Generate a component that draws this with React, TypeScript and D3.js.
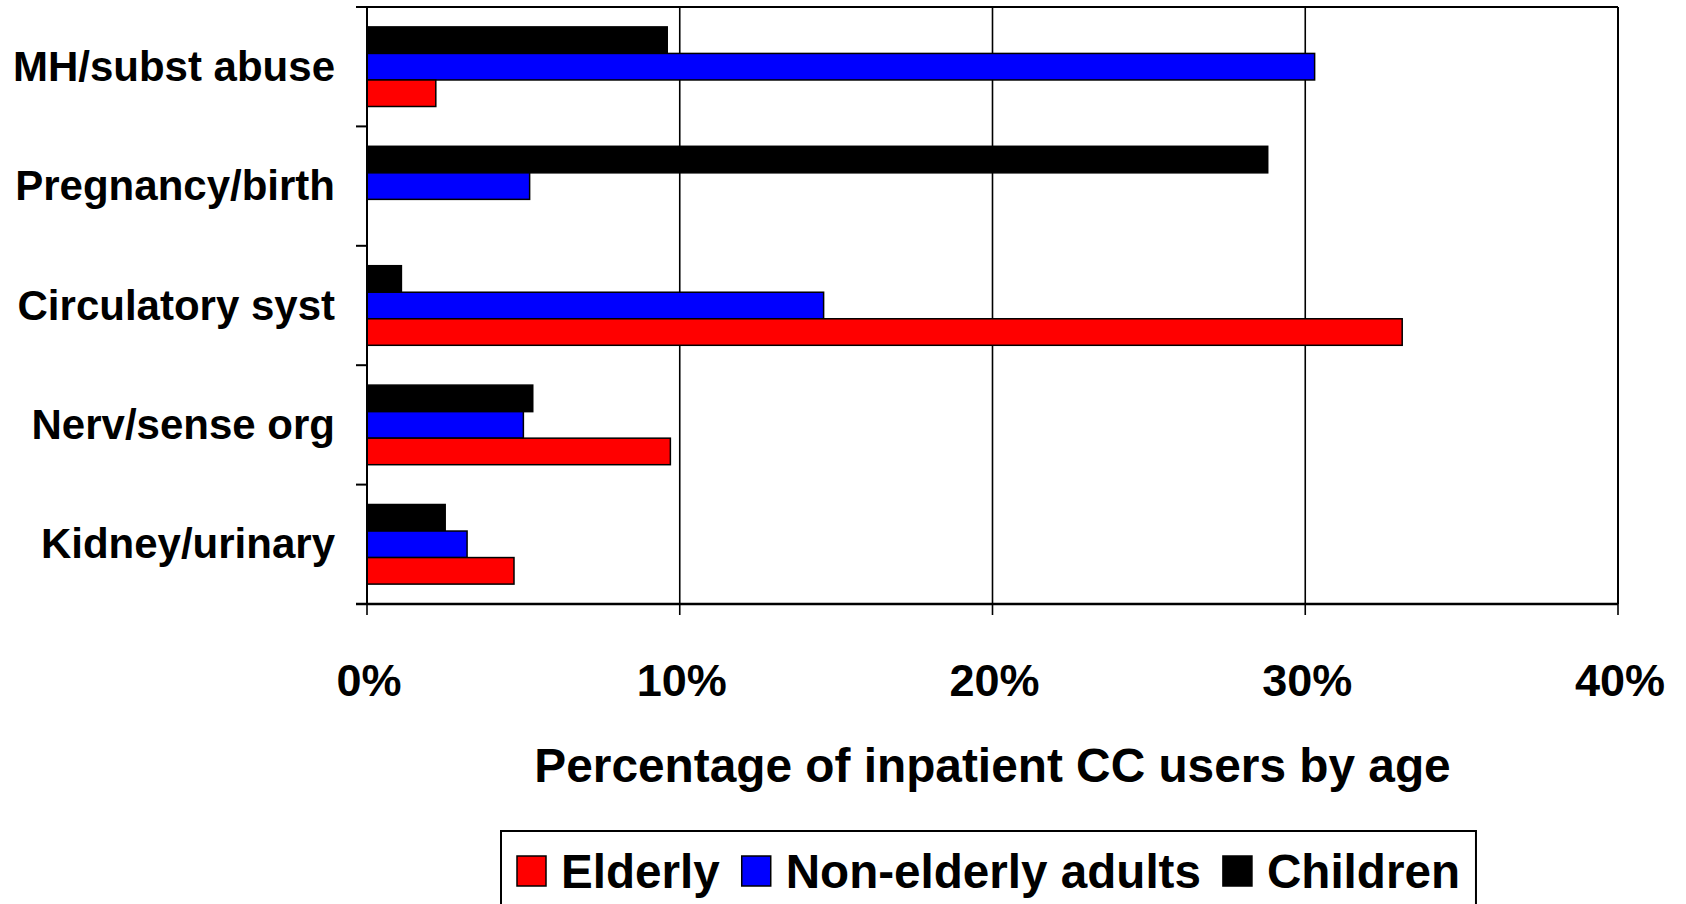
import React, { useEffect, useRef } from 'react';
import * as d3 from 'd3';

// categories, top to bottom
const categories = ['MH/subst abuse', 'Pregnancy/birth', 'Circulatory syst', 'Nerv/sense org', 'Kidney/urinary'];

// series drawn top to bottom inside each category group
const seriesNames = ['Children', 'Non-elderly adults', 'Elderly'];
const seriesColors = ['#000000', '#0000ff', '#ff0000'];

// percentage values per category (same order as categories)
const children = [9.6, 28.8, 1.1, 5.3, 2.5];
const nonElderly = [30.3, 5.2, 14.6, 5.0, 3.2];
const elderly = [2.2, 0, 33.1, 9.7, 4.7];

const xTicks = [0, 10, 20, 30, 40];
const xTitle = 'Percentage of inpatient CC users by age';

// legend reads left to right
const legendItems = ['Elderly', 'Non-elderly adults', 'Children'];
const legendColors = ['#ff0000', '#0000ff', '#000000'];

const FONT = '"Liberation Sans", Arial, sans-serif';

function App() {
  const svgRef = useRef<SVGSVGElement>(null);

  useEffect(() => {
    const width = 1686;
    const height = 904;
    const margins = { top: 7, right: 68, bottom: 300, left: 367 };
    const innerW = width - margins.left - margins.right;
    const innerH = height - margins.top - margins.bottom;

    const svg = d3.select(svgRef.current);
    svg.selectAll('*').remove();
    svg.attr('width', width).attr('height', height);

    const root = svg.append('g').attr('transform', `translate(${margins.left}, ${margins.top})`);

    const xScale = d3.scaleLinear().domain([0, 40]).range([0, innerW]);
    const yScale = d3.scaleBand<string>()
      .domain(categories)
      .range([0, innerH])
      .paddingInner(1 / 3)
      .paddingOuter(1 / 6);
    const inner = d3.scaleBand<string>().domain(seriesNames).range([0, yScale.bandwidth()]);

    // plot frame: top and right edges
    root.append('line').attr('x1', 0).attr('x2', innerW).attr('y1', 0).attr('y2', 0)
      .attr('stroke', '#000').attr('stroke-width', 2);
    root.append('line').attr('x1', innerW).attr('x2', innerW).attr('y1', 0).attr('y2', innerH)
      .attr('stroke', '#000').attr('stroke-width', 2);

    // vertical gridlines + ticks below axis
    root.selectAll('line.grid')
      .data(xTicks)
      .enter()
      .append('line')
      .attr('class', 'grid')
      .attr('x1', d => xScale(d))
      .attr('x2', d => xScale(d))
      .attr('y1', 0)
      .attr('y2', innerH + 11)
      .attr('stroke', '#000')
      .attr('stroke-width', 1.6);

    // bars
    const valueSets = [children, nonElderly, elderly];
    const rows: { cat: string; series: string; value: number; color: string }[] = [];
    categories.forEach((cat, i) => {
      seriesNames.forEach((s, j) => {
        rows.push({ cat, series: s, value: valueSets[j][i], color: seriesColors[j] });
      });
    });

    root.selectAll('rect.bar')
      .data(rows.filter(r => r.value > 0))
      .enter()
      .append('rect')
      .attr('class', 'bar')
      .attr('x', xScale(0))
      .attr('y', d => (yScale(d.cat) as number) + (inner(d.series) as number))
      .attr('width', d => xScale(d.value) - xScale(0))
      .attr('height', inner.bandwidth())
      .attr('fill', d => d.color)
      .attr('stroke', '#000')
      .attr('stroke-width', 1.5);

    // left axis line and category ticks
    root.append('line').attr('x1', 0).attr('x2', 0).attr('y1', 0).attr('y2', innerH)
      .attr('stroke', '#000').attr('stroke-width', 2);
    const step = yScale.step();
    root.selectAll('line.ytick')
      .data(d3.range(categories.length + 1))
      .enter()
      .append('line')
      .attr('class', 'ytick')
      .attr('x1', -11)
      .attr('x2', 0)
      .attr('y1', d => d * step)
      .attr('y2', d => d * step)
      .attr('stroke', '#000')
      .attr('stroke-width', 2);
    // bottom axis line
    root.append('line').attr('x1', -11).attr('x2', innerW).attr('y1', innerH).attr('y2', innerH)
      .attr('stroke', '#000').attr('stroke-width', 2.5);

    // category labels
    root.selectAll('text.cat')
      .data(categories)
      .enter()
      .append('text')
      .attr('class', 'cat')
      .attr('x', -32)
      .attr('y', d => (yScale(d) as number) + yScale.bandwidth() / 2 + 14)
      .attr('text-anchor', 'end')
      .attr('font-family', FONT)
      .attr('font-weight', 700)
      .attr('font-size', 42)
      .text(d => d);

    // x tick labels
    root.selectAll('text.xt')
      .data(xTicks)
      .enter()
      .append('text')
      .attr('class', 'xt')
      .attr('x', d => xScale(d) + 2)
      .attr('y', innerH + 92)
      .attr('text-anchor', 'middle')
      .attr('font-family', FONT)
      .attr('font-weight', 700)
      .attr('font-size', 45)
      .text(d => d + '%');

    // x title
    root.append('text')
      .attr('x', innerW / 2)
      .attr('y', innerH + 178)
      .attr('text-anchor', 'middle')
      .attr('font-family', FONT)
      .attr('font-weight', 700)
      .attr('font-size', 47.8)
      .text(xTitle);

    // legend
    const legend = svg.append('g');
    const box = legend.append('rect')
      .attr('y', 831)
      .attr('height', 90)
      .attr('fill', '#fff')
      .attr('stroke', '#000')
      .attr('stroke-width', 2);
    const gap = 22;
    let cursor = 0;
    const items = legend.append('g');
    legendItems.forEach((name, i) => {
      items.append('rect')
        .attr('x', cursor)
        .attr('y', 856)
        .attr('width', 29)
        .attr('height', 30)
        .attr('fill', legendColors[i])
        .attr('stroke', '#000')
        .attr('stroke-width', 1.5);
      const t = items.append('text')
        .attr('x', cursor + 44)
        .attr('y', 888)
        .attr('font-family', FONT)
        .attr('font-weight', 700)
        .attr('font-size', 47.6)
        .text(name);
      const w = (t.node() as SVGTextElement).getComputedTextLength();
      cursor += 44 + w + gap;
    });
    const total = cursor - gap;
    const left = 517;
    items.attr('transform', `translate(${left}, 0)`);
    box.attr('x', left - 16).attr('width', total + 32);
  }, []);

  return (
    <div style={{ position: 'absolute', left: 0, top: 0 }}>
      <svg ref={svgRef} style={{ display: 'block', background: '#fff' }} />
    </div>
  );
}

export default App;
